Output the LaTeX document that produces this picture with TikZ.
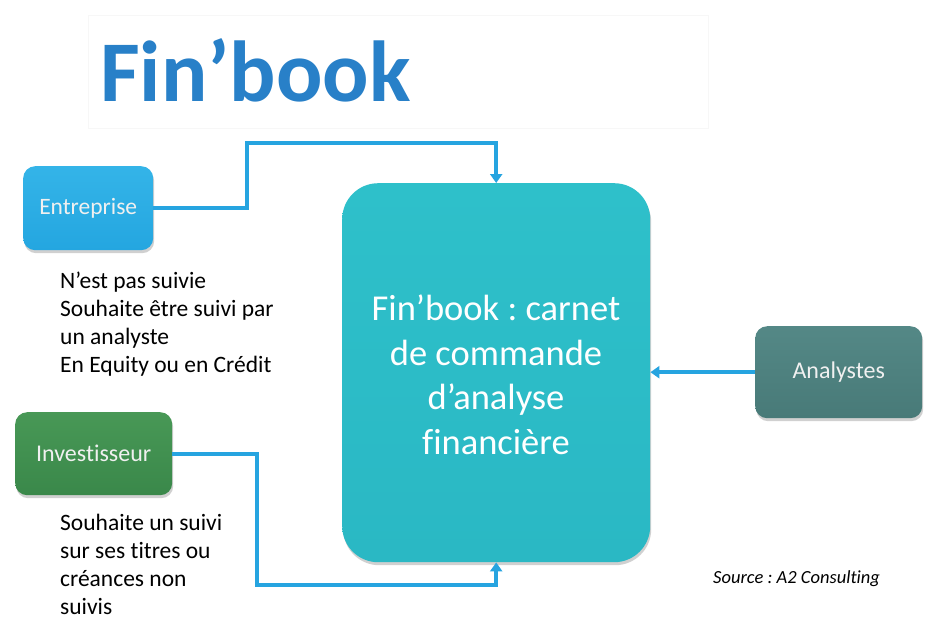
\documentclass[tikz,border=0pt]{standalone}
\usepackage{fontspec}
\setmainfont{Carlito}[Ligatures=NoCommon]
\usetikzlibrary{shadows,arrows.meta}
\definecolor{titleblue}{RGB}{40,128,200}
\definecolor{lineblue}{RGB}{38,164,224}
\definecolor{entblue}{RGB}{36,166,224}
\definecolor{entbluetop}{RGB}{52,180,232}
\definecolor{mainteal}{RGB}{46,192,202}
\definecolor{mainteal2}{RGB}{42,184,196}
\definecolor{anteal}{RGB}{72,122,120}
\definecolor{antealtop}{RGB}{84,136,134}
\definecolor{invgreen}{RGB}{58,136,74}
\definecolor{invgreentop}{RGB}{72,152,86}
\tikzset{
  box/.style={draw=none, rounded corners=12pt, text=white!94!black, align=center,
    drop shadow={shadow xshift=1pt, shadow yshift=-3pt, opacity=0.3, fill=black!60}},
  conn/.style={draw=lineblue, line width=3.6pt, -{Triangle[length=9pt,width=12pt]}},
  desc/.style={anchor=base west, align=left, font=\fontsize{23.5}{28}\selectfont, inner sep=0pt, text=black}
}
\begin{document}
\frenchspacing
\begin{tikzpicture}[x=1pt,y=-1pt]
\useasboundingbox (0,0) rectangle (939,619);
\fill[white] (0,0) rectangle (939,619);
% title
\node[draw=black!3, fill=white, minimum width=620pt, minimum height=113pt, anchor=north west, inner sep=0pt] (titlebox) at (88,15) {};
\node[anchor=base west, inner sep=0pt, text=titleblue, font=\fontsize{86.5}{90}\selectfont\bfseries] (title) at (100,101) {Fin’book};
% main box
\node[box, rounded corners=36pt, top color=mainteal, bottom color=mainteal2, minimum width=308pt, minimum height=379pt, anchor=north west, inner sep=0pt] (main) at (342,183) {};
\node[text=white, align=center, font=\fontsize{36.5}{44.5}\selectfont, inner sep=0pt] (maintext) at (496,375) {Fin’book : carnet\\de commande\\d’analyse\\financière};
% entreprise
\node[box, top color=entbluetop, bottom color=entblue, minimum width=130pt, minimum height=84pt, anchor=north west, inner sep=0pt, font=\fontsize{23.5}{24}\selectfont] (ent) at (23,166) {Entreprise};
% analystes
\node[box, top color=antealtop, bottom color=anteal, minimum width=167pt, minimum height=92pt, anchor=north west, inner sep=0pt, font=\fontsize{24}{24}\selectfont] (ana) at (755,326) {Analystes};
% investisseur
\node[box, top color=invgreentop, bottom color=invgreen, minimum width=157pt, minimum height=83pt, anchor=north west, inner sep=0pt, font=\fontsize{24}{24}\selectfont] (inv) at (15,412) {Investisseur};
% descriptions (base anchor = baseline of the last line)
\node[desc] (entdesc) at (60,372) {N’est pas suivie\\Souhaite être suivi par\\un analyste\\En Equity ou en Crédit};
\node[desc] (invdesc) at (60,614) {Souhaite un suivi\\sur ses titres ou\\créances non\\suivis};
% source
\node[anchor=base west, inner sep=0pt, font=\fontsize{18.5}{20}\selectfont\itshape] (src) at (713,583) {Source : A2 Consulting};
% connectors
\coordinate (e2) at (247,143);
\draw[conn] (ent.east) -| (e2) -| (main.north);
\coordinate (i2) at (257,585);
\draw[conn] (inv.east) -| (i2) -| (main.south);
\draw[conn] (ana.west) -- (ana.west -| main.east);
\end{tikzpicture}
\end{document}
